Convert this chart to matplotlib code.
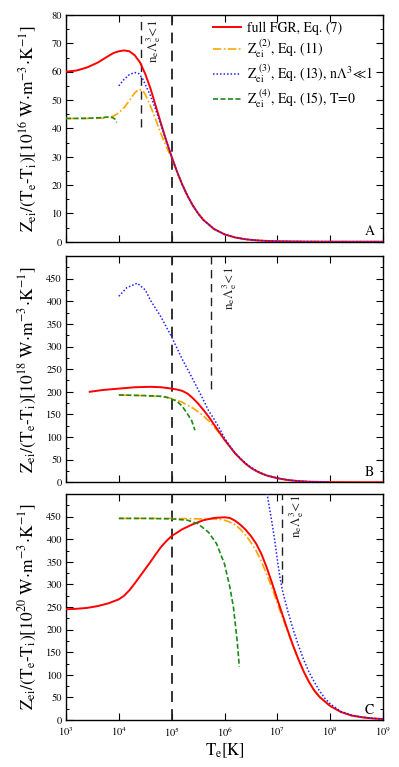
import numpy as np
import matplotlib
matplotlib.use("Agg")
import matplotlib.pyplot as plt
from matplotlib.ticker import MultipleLocator, NullLocator, LogLocator, NullFormatter

plt.rcParams['font.family'] = ['STIXGeneral', 'DejaVu Serif']
plt.rcParams['mathtext.fontset'] = 'stix'

# ---------------- Panel A data (units 1e16) ----------------
A_red_logT = [3.0, 3.2, 3.4, 3.6, 3.8, 3.9, 4.0, 4.1, 4.2, 4.3, 4.4, 4.5, 4.6, 4.7, 4.8, 4.9, 5.0,
              5.1, 5.2, 5.3, 5.4, 5.5, 5.6, 5.8, 6.0, 6.2, 6.4, 6.6, 6.8, 7.0, 7.5, 8.0, 8.5, 9.0]
A_red = [60.0, 60.4, 61.5, 63.2, 65.5, 66.6, 67.2, 67.5, 67.2, 65.8, 63.3, 59.2, 54.0, 47.8, 41.6, 35.6, 30.0,
         24.8, 20.2, 16.2, 12.8, 10.0, 7.7, 4.5, 2.6, 1.5, 0.85, 0.48, 0.27, 0.15, 0.04, 0.01, 0.003, 0.001]
A_or_logT = [3.0, 3.4, 3.7, 3.9, 4.0, 4.1, 4.2, 4.3, 4.38, 4.45, 4.5, 4.6, 4.7, 4.8, 4.9, 5.0,
             5.1, 5.2, 5.3, 5.4, 5.5, 5.6, 5.8, 6.0, 6.2, 6.4, 6.6, 6.8, 7.0, 7.5, 8.0, 8.5, 9.0]
A_or = [43.5, 43.5, 43.6, 44.3, 45.5, 47.3, 49.8, 52.5, 53.8, 53.4, 52.0, 47.8, 43.0, 38.0, 33.5, 29.5,
        24.6, 20.0, 16.1, 12.7, 9.9, 7.6, 4.5, 2.6, 1.5, 0.85, 0.48, 0.27, 0.15, 0.04, 0.01, 0.003, 0.001]
A_bl_logT = [4.0, 4.1, 4.2, 4.3, 4.38, 4.45, 4.5, 4.6, 4.7, 4.8, 4.9, 5.0,
             5.1, 5.2, 5.3, 5.4, 5.5, 5.6, 5.8, 6.0, 6.2, 6.4, 6.6, 6.8, 7.0, 7.5, 8.0, 8.5, 9.0]
A_bl = [55.0, 57.3, 59.0, 59.7, 59.3, 57.5, 55.5, 51.5, 46.5, 41.0, 35.3, 30.0,
        24.8, 20.2, 16.2, 12.8, 10.0, 7.7, 4.5, 2.6, 1.5, 0.85, 0.48, 0.27, 0.15, 0.04, 0.01, 0.003, 0.001]
A_gr_logT = [3.0, 3.3, 3.6, 3.8, 3.88, 3.93, 3.96]
A_gr = [43.5, 43.5, 43.7, 44.0, 43.8, 43.2, 42.1]

# ---------------- Panel B data (units 1e18) ----------------
B_red_logT = [3.45, 3.7, 4.0, 4.3, 4.6, 4.8, 5.0, 5.1, 5.2, 5.3, 5.4, 5.5, 5.6, 5.7, 5.8, 5.9, 6.0,
              6.1, 6.2, 6.3, 6.4, 6.5, 6.6, 6.7, 6.8, 7.0, 7.2, 7.4, 7.6, 8.0, 8.5, 9.0]
B_red = [200, 204, 207, 210, 211, 210, 207, 205, 202, 196, 186, 174, 160, 145, 128, 111, 94,
         79, 64, 52, 41, 32, 25, 19.5, 15, 9, 5, 2.6, 1.3, 0.4, 0.1, 0.03]
B_or_logT = [4.0, 4.5, 4.8, 4.9, 5.0, 5.1, 5.2, 5.3, 5.4, 5.5, 5.6, 5.7, 5.8, 5.9, 6.0,
             6.1, 6.2, 6.3, 6.4, 6.5, 6.6, 6.7, 6.8, 7.0, 7.2, 7.4, 7.6, 8.0, 8.5, 9.0]
B_or = [193, 191.5, 189.5, 188, 185, 181, 177, 170, 164, 156, 147, 136, 123, 109, 94,
        79, 64, 52, 41, 32, 25, 19.5, 15, 9, 5, 2.6, 1.3, 0.4, 0.1, 0.03]
B_bl_logT = [4.0, 4.15, 4.35, 4.5, 4.6, 4.8, 5.0, 5.2, 5.3, 5.4, 5.5, 5.6, 5.7, 5.8, 5.9, 6.0,
             6.1, 6.2, 6.3, 6.4, 6.5, 6.6, 6.7, 6.8, 7.0, 7.2, 7.4, 7.6, 8.0]
B_bl = [411, 430, 440, 425, 402, 365, 321, 272, 250, 228, 205, 182, 158, 140, 120, 98,
        80, 65, 53, 42, 33, 26, 20, 15.5, 9.3, 5.2, 2.7, 1.4, 0.4]
B_gr_logT = [4.0, 4.5, 4.8, 4.9, 5.0, 5.1, 5.2, 5.3, 5.38, 5.44]
B_gr = [193, 191.5, 190, 188, 184, 179, 168, 151, 136, 115]

# ---------------- Panel C data (units 1e20) ----------------
C_red_logT = [3.0, 3.2, 3.4, 3.6, 3.8, 4.0, 4.1, 4.2, 4.3, 4.4, 4.5, 4.6, 4.7, 4.8, 4.9, 5.0,
              5.2, 5.4, 5.6, 5.8, 6.0, 6.1, 6.2, 6.3, 6.4, 6.5, 6.6, 6.7, 6.8, 6.9, 7.0,
              7.1, 7.2, 7.3, 7.4, 7.5, 7.6, 7.7, 7.8, 8.0, 8.2, 8.4, 8.6, 8.8, 9.0]
C_red = [245, 246, 248, 252, 258, 267, 275, 287, 302, 318, 334, 350, 367, 383, 396, 407,
         422, 433, 442, 447, 448.5, 447, 441, 432, 421, 407, 390, 367, 337, 303, 267,
         232, 197, 164, 134, 107, 84, 65, 51, 31, 18, 10, 6, 3.5, 2]
C_or_logT = [4.0, 4.5, 5.0, 5.5, 5.8, 5.9, 6.0, 6.1, 6.2, 6.3, 6.4, 6.5, 6.6, 6.7, 6.8, 6.9, 7.0,
             7.1, 7.2, 7.3, 7.4, 7.5, 7.6, 7.7, 7.8, 8.0, 8.2, 8.4, 8.6, 8.8, 9.0]
C_or = [446, 446, 446, 445, 444.5, 444, 442, 438, 432, 422, 409, 393, 374, 350, 322, 292, 258,
        226, 194, 163, 134, 107, 84, 65, 51, 31, 18, 10, 6, 3.5, 2]
C_bl_logT = [6.75, 6.8, 6.85, 6.9, 6.95, 7.0, 7.05, 7.1, 7.2, 7.3, 7.4, 7.5, 7.6, 7.7, 7.8, 7.9,
             8.0, 8.2, 8.4, 8.6, 8.8, 9.0]
C_bl = [540, 505, 470, 436, 398, 355, 315, 285, 240, 200, 165, 133, 106, 84, 64, 48,
        36, 19, 11, 6.5, 3.8, 2.2]
C_gr_logT = [4.0, 4.5, 5.0, 5.3, 5.5, 5.7, 5.85, 6.0, 6.1, 6.17, 6.24, 6.28]
C_gr = [446, 446, 445, 442, 434, 415, 390, 345, 295, 249, 175, 118]

# n_e Lambda_e^3 < 1 boundary (x position, bottom of the segment) per panel
valid_logT = [4.42, 5.745, 7.085]
valid_bottom = [40.5, 207, 303]
text_logT = [4.66, 6.09, 7.37]
text_top = [78.5, 476, 498]

panels = [
    dict(red=(A_red_logT, A_red), orange=(A_or_logT, A_or), blue=(A_bl_logT, A_bl), green=(A_gr_logT, A_gr),
         ymax=80, minor=5, yticks=list(range(0, 81, 10)), exp='16', letter='A'),
    dict(red=(B_red_logT, B_red), orange=(B_or_logT, B_or), blue=(B_bl_logT, B_bl), green=(B_gr_logT, B_gr),
         ymax=500, minor=25, yticks=list(range(0, 451, 50)), exp='18', letter='B'),
    dict(red=(C_red_logT, C_red), orange=(C_or_logT, C_or), blue=(C_bl_logT, C_bl), green=(C_gr_logT, C_gr),
         ymax=500, minor=25, yticks=list(range(0, 451, 50)), exp='20', letter='C'),
]

fig = plt.figure(figsize=(3.99, 7.67), dpi=100)
left, width = 66 / 399, 317 / 399
rects = [(15, 241.7), (256, 482.3), (494, 720)]

RED = '#ff0000'
ORANGE = '#ffa500'
BLUE = '#2020ff'
GREEN = '#1a8a1a'

for i, (p, (top, bot)) in enumerate(zip(panels, rects)):
    ax = fig.add_axes([left, (767 - bot) / 767, width, (bot - top) / 767])
    ax.set_xscale('log')
    ax.set_xlim(1e3, 1e9)
    ax.set_ylim(0, p['ymax'])

    ax.plot(10 ** np.array(p['red'][0]), p['red'][1], color=RED, lw=1.4, zorder=5,
            label='full FGR, Eq. (7)')
    ax.plot(10 ** np.array(p['orange'][0]), p['orange'][1], color=ORANGE, lw=1.2,
            ls=(0, (5, 1.5, 1, 1.5)), zorder=4, label=r'$\mathrm{Z_{ei}^{\ (2)}}$, Eq. (11)')
    ax.plot(10 ** np.array(p['blue'][0]), p['blue'][1], color=BLUE, lw=1.1,
            ls=(0, (1, 1.3)), zorder=6, label=r'$\mathrm{Z_{ei}^{\ (3)}}$, Eq. (13), n$\Lambda^3\!\ll\!$1')
    ax.plot(10 ** np.array(p['green'][0]), p['green'][1], color=GREEN, lw=1.2,
            ls=(0, (3, 1.5)), zorder=6, label=r'$\mathrm{Z_{ei}^{\ (4)}}$, Eq. (15), T=0')

    ax.axvline(1e5, color='#222222', lw=1.3, ls=(0, (6, 4)), zorder=3)
    ax.plot([10 ** valid_logT[i]] * 2, [valid_bottom[i], p['ymax']], color='#222222', lw=1.0,
            ls=(0, (6, 4)), zorder=3)
    ax.text(10 ** text_logT[i], text_top[i], r'$\mathrm{n_e\Lambda_e^{3}\!<\!1}$', rotation=90,
            ha='center', va='top', fontsize=9.5, color='#222222')

    ax.yaxis.set_minor_locator(MultipleLocator(p['minor']))
    ax.set_yticks(p['yticks'])
    ax.xaxis.set_major_locator(LogLocator(base=10, numticks=10))
    ax.xaxis.set_minor_locator(NullLocator())
    ax.tick_params(which='both', direction='in', top=True, right=True, labelsize=7.5, pad=3)
    ax.tick_params(axis='x', pad=4)
    ax.tick_params(which='major', length=5, width=0.8)
    ax.tick_params(which='minor', length=2.5, width=0.7)
    if i < 2:
        ax.xaxis.set_major_formatter(NullFormatter())
    for s in ax.spines.values():
        s.set_linewidth(1.0)

    ax.set_ylabel(r'$\mathrm{Z_{ei}/(T_e}$-$\mathrm{T_i)[10^{%s}\ W\!\cdot\! m^{-3}\!\cdot\! K^{-1}]}$' % p['exp'],
                  fontsize=12.5)
    ax.yaxis.set_label_coords(-0.085, 0.5)
    ax.text(0.957, 0.045, p['letter'], transform=ax.transAxes, ha='center', va='center', fontsize=10)

    if i == 0:
        ax.legend(loc='upper left', frameon=False, fontsize=10, handlelength=2.0, handletextpad=0.45,
                  labelspacing=0.2, borderaxespad=0.0, borderpad=0.2, bbox_to_anchor=(0.455, 0.985))
    if i == 2:
        ax.set_xlabel(r'$\mathrm{T_e[K]}$', fontsize=12, labelpad=2)

fig.savefig('out.png', dpi=100)
